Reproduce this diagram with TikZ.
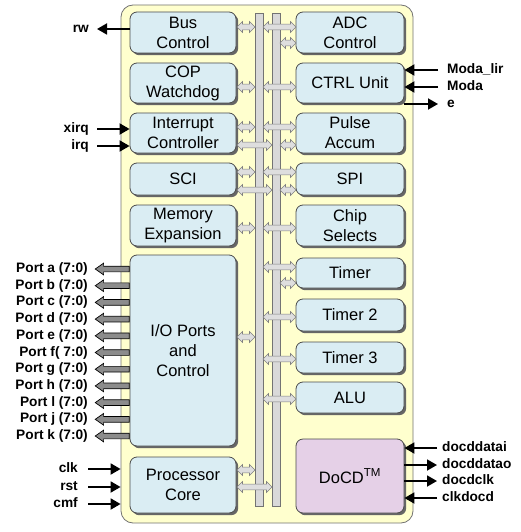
\documentclass[tikz,border=0pt]{standalone}
\usepackage{fontspec}
\setmainfont{Liberation Sans}
\usetikzlibrary{shapes.arrows,shadows,arrows.meta}

\definecolor{boxblue}{RGB}{218,237,243}
\definecolor{chipyel}{RGB}{255,255,206}
\definecolor{docdpink}{RGB}{229,208,231}

\begin{document}
\begin{tikzpicture}[x=1pt,y=-1pt,
  blk/.style={draw=black!70, fill=boxblue, rounded corners=7pt, line width=0.8pt,
    align=center, inner sep=0pt, font=\fontsize{16.5}{20}\selectfont,
    drop shadow={shadow xshift=2.2pt,shadow yshift=-2.2pt,fill=black!60,opacity=1}},
  lblk/.style={blk, minimum width=106pt},
  rblk/.style={blk, minimum width=108pt},
  bus/.style={draw=black!55, fill=black!15, line width=0.6pt, minimum width=8pt,
    minimum height=493pt, inner sep=0pt},
  barr/.style={double arrow, draw=black!50, fill=black!13, line width=0.6pt,
    inner xsep=0pt, inner ysep=2.6pt, double arrow head extend=2.6pt},
  parr/.style={single arrow, shape border rotate=180, draw=black, fill=black!45,
    line width=0.7pt, inner xsep=0pt, inner ysep=2.5pt, single arrow head extend=3pt,
    single arrow tip angle=70, minimum height=34pt},
  lbl/.style={font=\bfseries\fontsize{13.7}{16}\selectfont, inner sep=1pt,
    text height=10pt, text depth=3pt},
  sig/.style={line width=1.8pt, -{Triangle[length=10pt,width=11pt]}}]

\useasboundingbox (0,0) rectangle (520,532);

% chip outline
\node[draw=black!55, fill=chipyel, rounded corners=12pt, line width=0.8pt,
  minimum width=292pt, minimum height=518pt, inner sep=0pt] (mcu) at (267,264) {};

% internal buses
\node[bus] (busa) at (259,259.5) {};
\node[bus] (busb) at (276,259.5) {};

% left column
\node[lblk, minimum height=41pt] (buc) at (183,32.5) {Bus\\Control};
\node[lblk, minimum height=40pt] (cop) at (183,83) {COP\\Watchdog};
\node[lblk, minimum height=40pt] (intc) at (183,133) {Interrupt\\Controller};
\node[lblk, minimum height=32pt] (sci) at (183,179) {SCI};
\node[lblk, minimum height=41pt] (mem) at (183,225.5) {Memory\\Expansion};
\node[lblk, minimum height=191pt] (io) at (183,350.5) {I/O Ports\\and\\Control};
\node[lblk, minimum height=56pt] (pc) at (183,485) {Processor\\Core};

% right column
\node[rblk, minimum height=41pt] (adc) at (350,32.5) {ADC\\Control};
\node[rblk, minimum height=40pt] (ctrl) at (350,83) {CTRL Unit};
\node[rblk, minimum height=40pt] (pacc) at (350,133) {Pulse\\Accum};
\node[rblk, minimum height=32pt] (spi) at (350,179) {SPI};
\node[rblk, minimum height=41pt] (csel) at (350,225.5) {Chip\\Selects};
\node[rblk, minimum height=30pt] (tim) at (350,273) {Timer};
\node[rblk, minimum height=32pt] (timb) at (350,315) {Timer 2};
\node[rblk, minimum height=31pt] (timc) at (350,357.5) {Timer 3};
\node[rblk, minimum height=31pt] (alu) at (350,397.5) {ALU};
\node[rblk, minimum height=74pt, fill=docdpink] (docd) at (350,476) {DoCD\textsuperscript{TM}};

% bus taps
\foreach \y in {27,87,127,172,228,337,470}
  \node[barr, minimum height=18pt] (sl\y) at (246,\y) {};
\foreach \y in {145,190,487}
  \node[barr, minimum height=35pt] (ll\y) at (254.5,\y) {};
\foreach \y in {43,145,190,283}
  \node[barr, minimum height=16pt] (sr\y) at (288,\y) {};
\foreach \y in {27,87,127,172,228,267,317,359,399}
  \node[barr, minimum height=33pt] (lr\y) at (279.5,\y) {};

% ports
\foreach \t [count=\i from 0] in {Port a (7:0),Port b (7:0),Port c (7:0),Port d (7:0),
    Port e (7:0),Port f( 7:0),Port g (7:0),Port h (7:0),Port l (7:0),Port j (7:0),Port k (7:0)} {
  \node[lbl, anchor=east] (pl\i) at (89,269+16.7*\i) {\t};
  \node[parr, anchor=tail] (pa\i) at (io.west |- pl\i) {};
}

% left signals
\node[lbl, anchor=east] (rw) at (90,29) {rw};
\node[lbl, anchor=east] (xirq) at (90,129) {xirq};
\node[lbl, anchor=east] (irq) at (90,146) {irq};
\node[lbl, anchor=east] (clk) at (79,469) {clk};
\node[lbl, anchor=east] (rst) at (79,487) {rst};
\node[lbl, anchor=east] (cmf) at (79,504) {cmf};
\draw[sig] (buc.west |- rw) -- ([xshift=7pt]rw.east);
\draw[sig] ([xshift=7pt]xirq.east) -- (intc.west |- xirq);
\draw[sig] ([xshift=7pt]irq.east) -- (intc.west |- irq);
\foreach \s in {clk,rst,cmf}
  \draw[sig] ([xshift=9pt]\s.east) -- (mcu.west |- \s);

% right signals
\node[lbl, anchor=west] (mlir) at (446,70) {Moda\_lir};
\node[lbl, anchor=west] (moda) at (446,87) {Moda};
\node[lbl, anchor=west] (e) at (446,104) {e};
\node[lbl, anchor=west] (ddi) at (441,448) {docddatai};
\node[lbl, anchor=west] (ddo) at (441,465) {docddatao};
\node[lbl, anchor=west] (dclk) at (441,481) {docdclk};
\node[lbl, anchor=west] (cdoc) at (441,498) {clkdocd};
\draw[sig] ([xshift=-8pt]mlir.west) -- (ctrl.east |- mlir);
\draw[sig] ([xshift=-8pt]moda.west) -- (ctrl.east |- moda);
\draw[sig] (ctrl.east |- e) -- ([xshift=-8pt]e.west);
\draw[sig] ([xshift=-4pt]ddi.west) -- (docd.east |- ddi);
\draw[sig] (docd.east |- ddo) -- ([xshift=-4pt]ddo.west);
\draw[sig] (docd.east |- dclk) -- ([xshift=-4pt]dclk.west);
\draw[sig] ([xshift=-4pt]cdoc.west) -- (docd.east |- cdoc);
\end{tikzpicture}
\end{document}
